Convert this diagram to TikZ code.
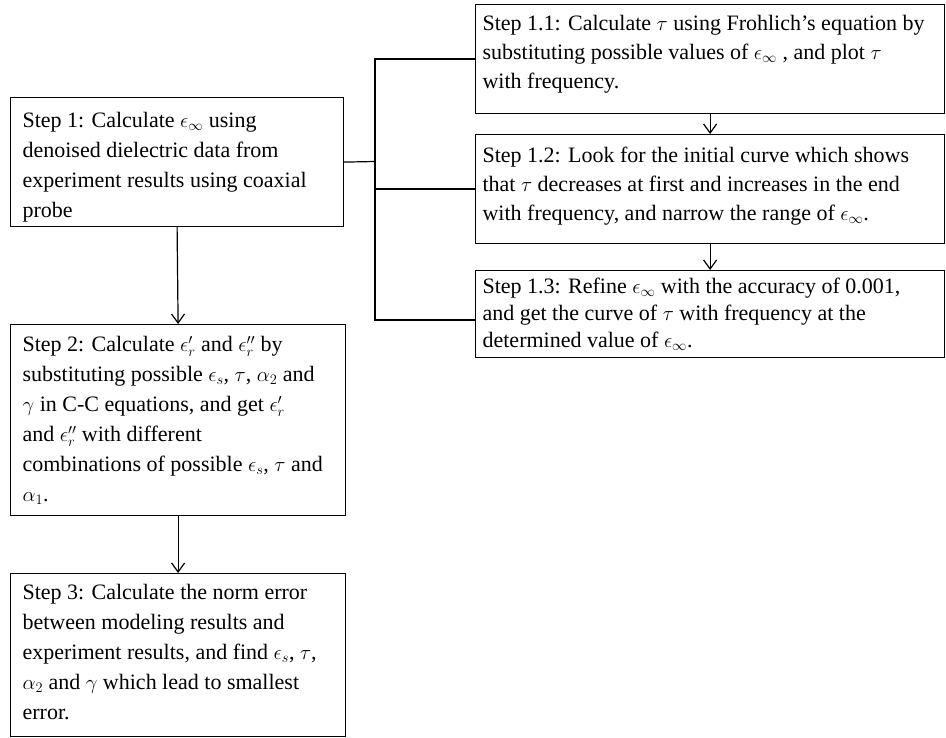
\documentclass[tikz,border=0pt]{standalone}
\usepackage{fontspec}
\setmainfont{Liberation Serif}
\usetikzlibrary{arrows.meta}
\newcommand{\btext}[5]{\parbox[c][#2][t]{#1}{\fontsize{22}{#4}\selectfont\rule{0pt}{#3}#5}}
\begin{document}
\begin{tikzpicture}[x=1pt,y=-1pt,
  stepbox/.style={draw, line width=1.2pt, anchor=north west, inner xsep=#1, inner ysep=0pt, font=\fontsize{22}{30}\selectfont},
  link/.style={line width=1.2pt},
  flow/.style={line width=1.2pt, -{Straight Barb[length=9pt,width=13pt,line width=1.2pt]}}]
\useasboundingbox (0,0) rectangle (946,738);

\node[stepbox=12pt] (s1) at (10,97) {\btext{309pt}{129pt}{30pt}{30pt}{Step 1: Calculate $\epsilon_\infty$ using\\ denoised dielectric data from\\ experiment results using coaxial\\ probe}};

\node[stepbox=7pt] (s11) at (475,4) {\btext{455pt}{109pt}{26pt}{29pt}{Step 1.1: Calculate $\tau$ using Frohlich's equation by\\ substituting possible values of $\epsilon_\infty$ , and plot $\tau$\\ with frequency.}};

\node[stepbox=7pt] (s12) at (475,134) {\btext{455pt}{109pt}{28pt}{29pt}{Step 1.2: Look for the initial curve which shows\\ that $\tau$ decreases at first and increases in the end\\ with frequency, and narrow the range of $\epsilon_\infty$.}};

\node[stepbox=7pt] (s13) at (475,270) {\btext{455pt}{87pt}{23pt}{27pt}{Step 1.3: Refine $\epsilon_\infty$ with the accuracy of 0.001,\\ and get the curve of $\tau$ with frequency at the\\ determined value of $\epsilon_\infty$.}};

\node[stepbox=12pt] (s2) at (10,324) {\btext{311pt}{191pt}{27pt}{30pt}{Step 2: Calculate $\epsilon_r'$ and $\epsilon_r''$ by\\ substituting possible $\epsilon_s$, $\tau$, $\alpha_2$ and\\ $\gamma$ in C-C equations, and get $\epsilon_r'$\\ and $\epsilon_r''$ with different\\ combinations of possible $\epsilon_s$, $\tau$ and\\ $\alpha_1$.}};

\node[stepbox=12pt] (s3) at (10,573) {\btext{311pt}{163pt}{26pt}{30pt}{Step 3: Calculate the norm error\\ between modeling results and\\ experiment results, and find $\epsilon_s$, $\tau$,\\ $\alpha_2$ and $\gamma$ which lead to smallest\\ error.}};

\coordinate (jm) at (375,161.5);
\coordinate (jb) at (375,320);

\draw[link] (s1.east) -- (jm);
\draw[link] (s11.west) -- (s11.west -| jm) -- (jb) -- (s13.west |- jb);
\draw[link] (s12.west) -- (s12.west -| jm);

\draw[flow] (s11.south) -- (s12.north);
\draw[flow] (s12.south) -- (s13.north);
\draw[flow] (s1.south) -- (s2.north);
\draw[flow] (s2.south) -- (s3.north);
\end{tikzpicture}
\end{document}
